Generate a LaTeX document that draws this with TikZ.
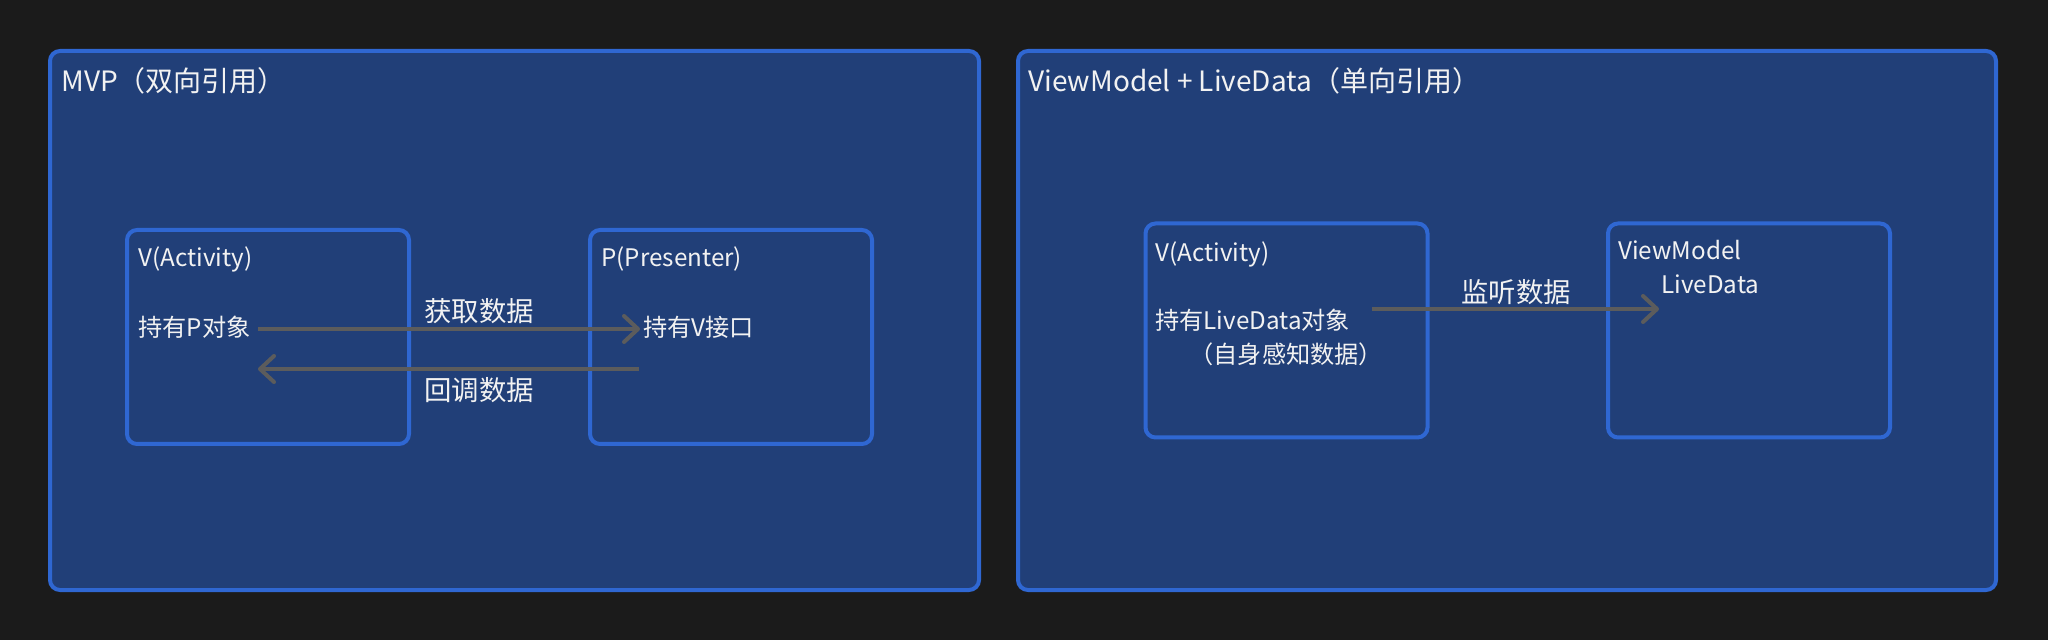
\documentclass[tikz,border=0pt]{standalone}
\usepackage{fontspec}
\newfontfamily\cjk{Noto Sans CJK SC}
\usetikzlibrary{arrows.meta}
\definecolor{bgc}{HTML}{1B1B1B}
\definecolor{boxfill}{HTML}{213F78}
\definecolor{boxline}{HTML}{2F67D2}
\definecolor{arrowc}{HTML}{5C5C5C}
\definecolor{txt}{HTML}{F2F2F2}
\tikzset{
  outerbox/.style={draw=boxline, fill=boxfill, line width=2pt, rounded corners=5pt, minimum height=269.5pt, inner sep=0pt},
  innerbox/.style={draw=boxline, fill=boxfill, line width=2pt, rounded corners=5pt, minimum width=141pt, minimum height=107pt, inner sep=0pt},
  title/.style={anchor=base west, inner sep=0pt, text=txt, font=\cjk\fontsize{14pt}{16pt}\selectfont},
  body/.style={anchor=base west, inner sep=0pt, text=txt, font=\cjk\fontsize{12.1pt}{14pt}\selectfont},
  arrlabel/.style={text=txt, inner sep=0pt, font=\cjk\fontsize{13.7pt}{16pt}\selectfont},
  flow/.style={draw=arrowc, line width=2pt, -{Straight Barb[length=7pt, width=13pt, round]}}
}
\begin{document}
\begin{tikzpicture}[x=0.5pt, y=-0.5pt]
\fill[bgc] (0,0) rectangle (2048,640);
\useasboundingbox (0,0) rectangle (2048,640);

% left panel
\node[outerbox, minimum width=464.5pt] (mvp) at (514.5,320.5) {};
\node[title] (mvpt) at (61,92) {MVP（双向引用）};
\node[innerbox] (vbox) at (268,337) {};
\node[innerbox] (pbox) at (731,337) {};
\node[body] (vt) at (138,267) {V(Activity)};
\node[body] (vhold) at (138,337) {持有P对象};
\node[body] (pt) at (601,267) {P(Presenter)};
\node[body] (phold) at (643,337) {持有V接口};
\coordinate (a1s) at (258,329);
\coordinate (a1e) at (640,329);
\coordinate (a2s) at (639,369);
\coordinate (a2e) at (258,369);
\draw[flow] (a1s) -- (a1e);
\draw[flow] (a2s) -- (a2e);
\node[arrlabel] (get) at (479,311) {获取数据};
\node[arrlabel] (back) at (479,390) {回调数据};

% right panel
\node[outerbox, minimum width=489pt] (vml) at (1507,320.5) {};
\node[title] (vmlt) at (1028,92) {ViewModel + LiveData（单向引用）};
\node[innerbox] (vbox2) at (1286.5,330.5) {};
\node[innerbox] (vmbox) at (1749,330.5) {};
\node[body] (vt2) at (1155,262) {V(Activity)};
\node[body] (vhold2) at (1155,330) {持有LiveData对象};
\node[body] (vsense) at (1189,364) {（自身感知数据）};
\node[body] (vmt) at (1618,260) {ViewModel};
\node[body] (ldt) at (1661,294) {LiveData};
\coordinate (a3s) at (1372,309);
\coordinate (a3e) at (1659,309);
\draw[flow] (a3s) -- (a3e);
\node[arrlabel] (listen) at (1516,292) {监听数据};
\end{tikzpicture}
\end{document}
